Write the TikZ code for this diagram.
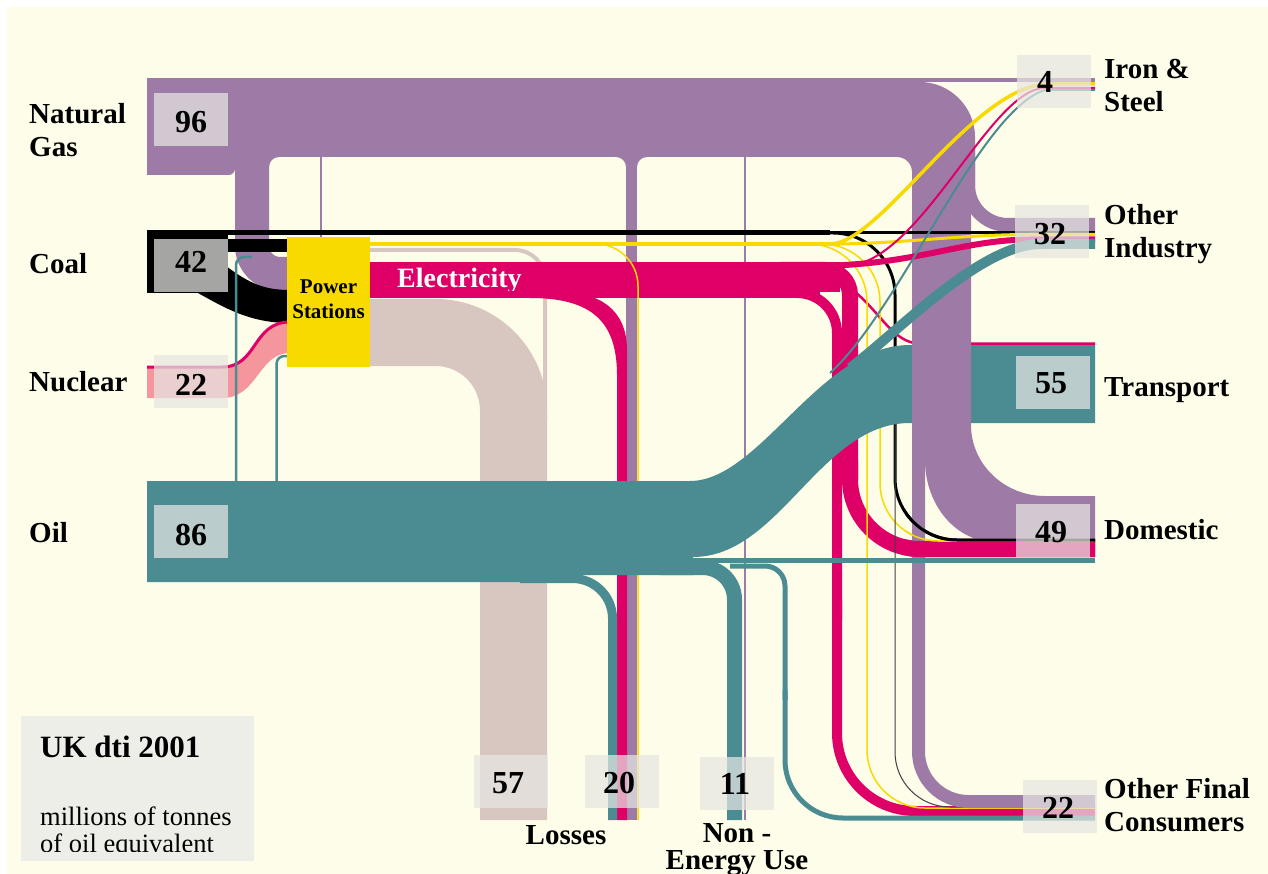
\documentclass[tikz,border=0pt]{standalone}
\usepackage{fontspec}
\setmainfont{Liberation Serif}
\definecolor{cream}{HTML}{FEFDE9}
\definecolor{gas}{HTML}{9D7BA6}
\definecolor{oil}{HTML}{4A8C91}
\definecolor{elec}{HTML}{DE0067}
\definecolor{psy}{HTML}{F8DA00}
\definecolor{nuc}{HTML}{F4969B}
\definecolor{pale}{HTML}{D8C6C1}
\definecolor{lbox}{HTML}{E6E6E2}
\definecolor{legbox}{HTML}{EEEEE9}
\tikzset{
 flow/.style={line cap=butt, line join=round},
 numbox/.style={fill=lbox, fill opacity=0.72, draw=none, minimum width=74pt, minimum height=53pt, inner sep=0pt},
 num/.style={font=\fontsize{32}{32}\selectfont\bfseries, inner sep=0pt, anchor=base},
 lab/.style={font=\fontsize{29}{33}\selectfont\bfseries, inner sep=0pt, anchor=base west},
}
\begin{document}
\begin{tikzpicture}[x=1pt,y=-1pt]
\useasboundingbox (0,0) rectangle (1268,874);
\fill[white] (0,0) rectangle (1268,874);
\fill[cream] (7,7) rectangle (1268,874);

% ---- conversion losses (pale)
\draw[flow, pale, line width=67pt, rounded corners=78pt] (365,332.5) -- (513.5,332.5) -- (513.5,820);
\draw[flow, pale, line width=4pt, rounded corners=30pt] (368,250) -- (545,250) -- (545,420);

% ---- gas, left / early parts
\fill[gas] (147,78) rectangle (912,157);
\fill[gas] (147,150) -- (235,150) -- (235,169) .. controls (235,172) and (232,175) .. (229,175) -- (147,175) -- cycle;
\draw[flow, gas, line width=34pt, rounded corners=28pt] (252,150) -- (252,274) -- (292,274);
\fill[gas] (269,157) -- (279,157) .. controls (273.5,157) and (269,161.5) .. (269,167) -- cycle;
\draw[flow, gas, line width=11pt] (631.5,150) -- (631.5,820);
\fill[gas] (626,157) -- (616,157) .. controls (621.5,157) and (626,161.5) .. (626,167) -- cycle;
\fill[gas] (637,157) -- (647,157) .. controls (641.5,157) and (637,161.5) .. (637,167) -- cycle;
\draw[gas, line width=2pt] (321,150) -- (321,237);
\draw[gas, line width=2.5pt] (745,150) -- (745,820);
\draw[flow, gas, line width=4pt] (900,80) -- (1095,80);

% ---- electricity
\fill[elec] (370,262) rectangle (820,298);
\fill[elec] (800,262) rectangle (840,292);
\fill[elec] (530,298) .. controls (590,298) and (617,320) .. (617,375) -- (617,820) -- (627,820) -- (627,350) .. controls (627,310) and (600,292) .. (560,292) -- cycle;
\draw[flow, elec, line width=10pt, rounded corners=40pt] (760,293) -- (837,293) -- (837,620);
\draw[flow, elec, line width=10pt, rounded corners=78pt] (837,600) -- (837,811) -- (1095,811);
\draw[flow, elec, line width=16pt, rounded corners=25pt] (780,270) -- (850,270) -- (850,480);
\draw[flow, elec, line width=16pt, rounded corners=70pt] (850,460) -- (850,549) -- (1095,549);
\draw[elec, line width=2.5pt] (800,272) .. controls (870,272) and (880,343.5) .. (920,343.5) -- (1095,343.5);

% ---- yellow and black lines going down
\draw[psy, line width=1.5pt, rounded corners=42pt] (585,244) -- (638,244) -- (638,820);
\draw[psy, line width=1.5pt, rounded corners=58pt] (790,244) -- (867,244) -- (867,808) -- (1095,808);
\draw[psy, line width=1.5pt, rounded corners=58pt] (790,244) -- (880,244) -- (880,541) -- (1095,541);
\draw[black, line width=3pt, rounded corners=62pt] (800,233) -- (895,233) -- (895,540) -- (1095,540);
\draw[black!75, line width=1pt, rounded corners=55pt] (895,400) -- (895,807) -- (1095,807);

% ---- oil
\fill[oil] (147,481) -- (690,481) .. controls (760,481) and (820,345) .. (910,345) -- (1095,345) -- (1095,423) -- (910,423) .. controls (820,423) and (780,557) .. (693,557) -- (693,575) -- (560,575) -- (560,582) -- (147,582) -- cycle;
\draw[flow, oil, line width=9pt, rounded corners=40pt] (520,578.5) -- (612.5,578.5) -- (612.5,820);
\draw[flow, oil, line width=15pt, rounded corners=32pt] (660,567.5) -- (734.5,567.5) -- (734.5,820);
\draw[flow, oil, line width=5pt] (690,560) -- (1095,560);
\draw[flow, oil, line width=5pt, rounded corners=20pt] (730,566) -- (785,566) -- (785,700);
\draw[flow, oil, line width=5pt, rounded corners=58pt] (785,690) -- (785,818) -- (1095,818);

% ---- gas, right part (over oil)
\fill[gas] (905,82) -- (920,82) .. controls (950,82) and (975,107) .. (975,137) -- (975,200) -- (912,200) -- (912,157) -- (905,157) -- cycle;
\fill[gas] (912,157) -- (897,157) .. controls (905.3,157) and (912,163.7) .. (912,172) -- cycle;
\draw[flow, gas, line width=14pt, rounded corners=40pt] (968,150) -- (968,225) -- (1095,225);
\fill[gas] (925,150) -- (925,460) .. controls (925,505) and (956,542) .. (995,542) -- (1095,542) -- (1095,496) -- (1045,496) .. controls (1004,496) and (971,464) .. (971,425) -- (971,150) -- cycle;
\draw[flow, gas, line width=13pt, rounded corners=50pt] (918.5,150) -- (918.5,801.5) -- (1095,801.5);

% ---- domestic lines crossing the gas strip
\begin{scope}
\clip (905,470) rectangle (1100,600);
\draw[flow, elec, line width=16pt, rounded corners=70pt] (850,460) -- (850,549) -- (1095,549);
\draw[psy, line width=1.5pt, rounded corners=58pt] (790,244) -- (880,244) -- (880,541) -- (1095,541);
\draw[black, line width=3pt, rounded corners=62pt] (800,233) -- (895,233) -- (895,540) -- (1095,540);
\draw[flow, oil, line width=5pt] (690,560) -- (1095,560);
\end{scope}

% ---- lines crossing over the gas band
\draw[flow, black, line width=4.5pt] (147,232.5) -- (830,232.5);
\draw[flow, black, line width=2.5pt] (820,232.5) -- (1095,232.5);
\draw[flow, psy, line width=4pt] (365,244) -- (840,244);
\draw[psy, line width=3.5pt] (830,244) .. controls (880,244) and (970,90) .. (1045,84) -- (1095,84);
\draw[psy, line width=3pt] (830,244) .. controls (900,244) and (960,234.5) .. (1030,234.5) -- (1095,234.5);
\draw[elec, line width=2pt] (845,266) .. controls (920,265) and (990,88) .. (1045,88) -- (1095,88);
\draw[elec, line width=6pt] (820,266) .. controls (920,264) and (960,240) .. (1030,239.5) -- (1095,239.5);
\draw[oil, line width=2pt] (830,373) .. controls (900,310) and (980,110) .. (1045,90) -- (1095,90);
\draw[oil, line width=10pt] (850,368) .. controls (900,330) and (980,245) .. (1040,244) -- (1095,244);

% ---- coal, nuclear, oil feeds, power stations
\fill[black] (147,230) rectangle (228,293);
\fill[black] (226,239) rectangle (290,252);
\fill[black] (226,266) .. controls (250,284) and (265,290) .. (290,290) -- (290,323) .. controls (250,323) and (225,308) .. (198,293) -- (226,293) -- cycle;
\fill[nuc] (147,367) -- (222,367) .. controls (258,367) and (252,322) .. (290,322) -- (290,353) .. controls (258,353) and (258,398) .. (222,398) -- (147,398) -- cycle;
\draw[elec, line width=3pt] (147,367) -- (222,367) .. controls (258,367) and (252,322) .. (290,322);
\draw[oil, line width=2.5pt, rounded corners=8pt] (236,482) -- (236,257) -- (252,257);
\draw[oil, line width=2.5pt, rounded corners=8pt] (276.5,482) -- (276.5,356) -- (290,356);
\node[fill=psy, minimum width=83pt, minimum height=130pt, inner sep=0pt, anchor=north west] (ps) at (287,237) {};
\node[font=\fontsize{21}{25}\selectfont\bfseries, align=center, inner sep=0pt] (pstext) at (328.5,299) {Power\\Stations};
\begin{scope}
\clip (370,262) rectangle (560,291);
\node[font=\fontsize{28}{28}\selectfont\bfseries, text=white, anchor=base west, inner sep=0pt] (eltext) at (397,288) {Electricity};
\end{scope}

% ---- value boxes
\node[numbox] (b96) at (191,119.5) {};
\node[numbox] (b42) at (191,265.5) {};
\node[numbox] (b22n) at (191,381.5) {};
\node[numbox] (b86) at (191,531.5) {};
\node[numbox] (b4) at (1053.5,81.5) {};
\node[numbox] (b32) at (1052,231.5) {};
\node[numbox] (b55) at (1053,382) {};
\node[numbox] (b49) at (1053,530) {};
\node[numbox] (b22f) at (1060,806) {};
\node[numbox] (b57) at (510.5,781.5) {};
\node[numbox] (b20) at (622,781.5) {};
\node[numbox] (b11) at (737,783) {};
\node[num] (t96) at (191,133) {96};
\node[num] (t42) at (191,273) {42};
\node[num] (t22n) at (191,395) {22};
\node[num] (t86) at (191,545) {86};
\node[num] (t4) at (1045,93) {4};
\node[num] (t32) at (1050,245) {32};
\node[num] (t55) at (1051,393) {55};
\node[num] (t49) at (1051,542) {49};
\node[num] (t22f) at (1058,818) {22};
\node[num] (t57) at (508,793) {57};
\node[num] (t20) at (619,793) {20};
\node[num] (t11) at (735,794) {11};

% ---- labels
\node[lab] (lng1) at (29,124) {Natural};
\node[lab] (lng2) at (29,157) {Gas};
\node[lab] (lcoal) at (29,274) {Coal};
\node[lab] (lnuc) at (29,391) {Nuclear};
\node[lab] (loil) at (29,542) {Oil};
\node[lab] (lis1) at (1104,79) {Iron \&};
\node[lab] (lis2) at (1104,112) {Steel};
\node[lab] (loi1) at (1104,225) {Other};
\node[lab] (loi2) at (1104,258) {Industry};
\node[lab] (ltr) at (1104,396) {Transport};
\node[lab] (ldom) at (1104,539) {Domestic};
\node[lab] (lof1) at (1104,798) {Other Final};
\node[lab] (lof2) at (1104,831) {Consumers};
\node[lab, anchor=base] (lloss) at (566,844) {Losses};
\node[lab, anchor=base] (lne1) at (737,842) {Non -};
\node[lab, anchor=base] (lne2) at (737,869) {Energy Use};

% ---- legend
\node[fill=legbox, minimum width=233pt, minimum height=145pt, inner sep=0pt, anchor=north west] (leg) at (21,716) {};
\node[font=\fontsize{31}{31}\selectfont\bfseries, anchor=base west, inner sep=0pt] (legt) at (40,757) {UK dti 2001};
\node[font=\fontsize{26.5}{27}\selectfont, anchor=base west, inner sep=0pt] (legs1) at (40,825) {millions of tonnes};
\begin{scope}
\clip (0,0) rectangle (1268,851);
\node[font=\fontsize{26.5}{27}\selectfont, anchor=base west, inner sep=0pt] (legs2) at (40,852) {of oil equivalent};
\end{scope}
\end{tikzpicture}
\end{document}
